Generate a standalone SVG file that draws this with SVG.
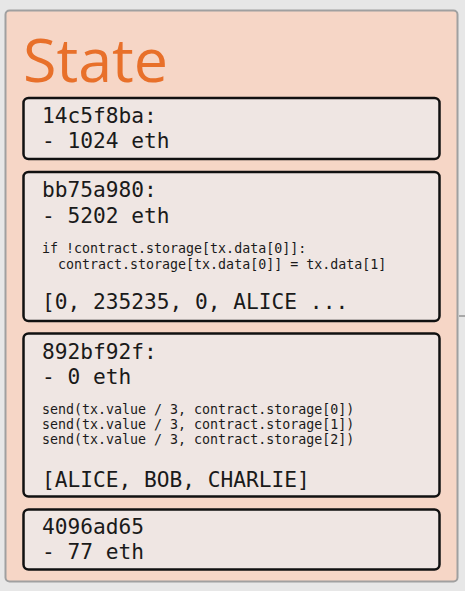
<svg xmlns="http://www.w3.org/2000/svg" width="465" height="591" viewBox="0 0 465 591">
<style>
.box{fill:#efe6e3;stroke:#111;stroke-width:2.5}
.big{font-family:"DejaVu Sans Mono","Liberation Mono",monospace;font-size:21.2px;fill:#1a1a1a}
.code{font-family:"DejaVu Sans Mono","Liberation Mono",monospace;font-size:13.3px;fill:#1a1a1a;white-space:pre}
</style>
<rect x="0" y="0" width="465" height="591" fill="#e7e7e7"/>
<line x1="459" y1="316" x2="465" y2="316" stroke="#a8a8a8" stroke-width="2"/>
<g id="state">
<rect x="5.5" y="10.5" width="452" height="571" rx="4" fill="#f6d6c6" stroke="#a0a0a0" stroke-width="2"/>
<text x="23" y="81.5" font-family="Open Sans, sans-serif" font-size="61" fill="#e8702a">State</text>
</g>
<g id="acct1">
<rect class="box" x="23.5" y="98" width="416" height="61" rx="5"/>
<text class="big" x="42" y="122.5">14c5f8ba:</text>
<text class="big" x="42" y="147.5">- 1024 eth</text>
</g>
<g id="acct2">
<rect class="box" x="23.5" y="172" width="416" height="149" rx="5"/>
<text class="big" x="42" y="196.5">bb75a980:</text>
<text class="big" x="42" y="222.5">- 5202 eth</text>
<text class="code" x="42" y="253" xml:space="preserve">if !contract.storage[tx.data[0]]:</text>
<text class="code" x="42" y="268.5" xml:space="preserve">  contract.storage[tx.data[0]] = tx.data[1]</text>
<text class="big" x="42" y="308.5">[0, 235235, 0, ALICE ...</text>
</g>
<g id="acct3">
<rect class="box" x="23.5" y="333.5" width="416" height="163" rx="5"/>
<text class="big" x="42" y="358.5">892bf92f:</text>
<text class="big" x="42" y="383.5">- 0 eth</text>
<text class="code" x="42" y="413.5">send(tx.value / 3, contract.storage[0])</text>
<text class="code" x="42" y="428.8">send(tx.value / 3, contract.storage[1])</text>
<text class="code" x="42" y="444">send(tx.value / 3, contract.storage[2])</text>
<text class="big" x="42" y="486.5">[ALICE, BOB, CHARLIE]</text>
</g>
<g id="acct4">
<rect class="box" x="23.5" y="509.5" width="416" height="60" rx="5"/>
<text class="big" x="42" y="534">4096ad65</text>
<text class="big" x="42" y="559">- 77 eth</text>
</g>
<g id="connectors"></g>
</svg>
